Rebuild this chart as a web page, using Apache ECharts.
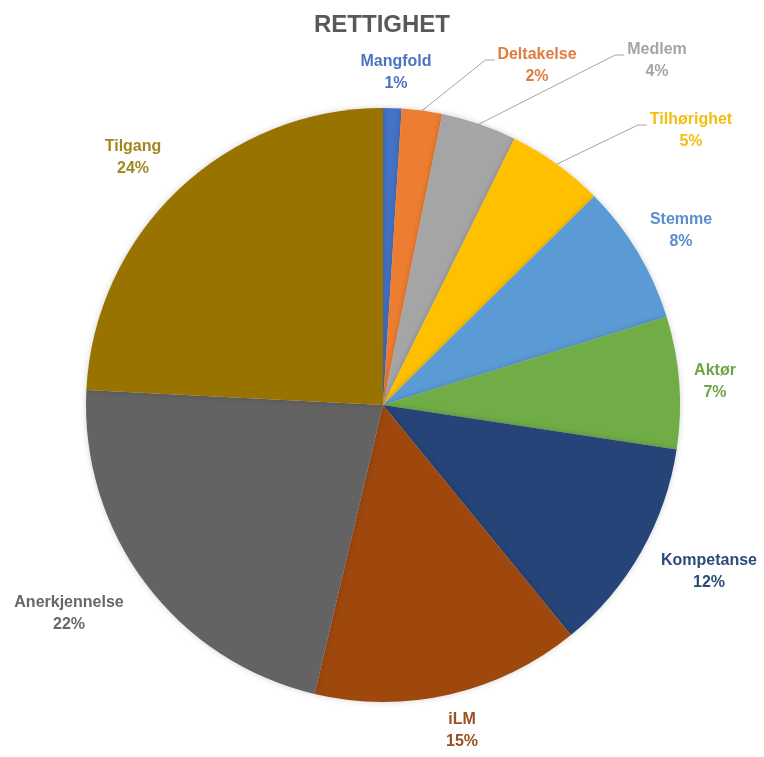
<!DOCTYPE html>
<html>
<head>
<meta charset="utf-8">
<script src="https://cdn.jsdelivr.net/npm/echarts@6/dist/echarts.min.js"></script>
<style>
  html, body { margin: 0; padding: 0; background: #fff; }
  #chart { width: 764px; height: 757px; }
</style>
</head>
<body>
<div id="chart"></div>
<script>
const names = ['Mangfold', 'Deltakelse', 'Medlem', 'Tilhørighet', 'Stemme', 'Aktør', 'Kompetanse', 'iLM', 'Anerkjennelse', 'Tilgang'];
const values = [1.0, 2.2, 4.1, 5.3, 7.6, 7.2, 11.7, 14.6, 22.1, 24.2];

const sliceColors = ['#4472C4', '#ED7D31', '#A5A5A5', '#FFC000', '#5B9BD5', '#70AD47', '#264478', '#9E480E', '#636363', '#997300'];
const labelColors = ['#4A74C0', '#E07C3E', '#A5A5A5', '#F2BE10', '#5B8FCB', '#6DA446', '#2C4A7A', '#99501E', '#676767', '#A08820'];
// label block centres (layout only)
const labelPos = [[396, 73], [537, 66], [657, 61], [691, 131], [681, 231], [715, 382], [709, 572], [462, 731], [69, 614], [133, 158]];
const withLine = [false, true, true, true, false, false, false, false, false, false];

const CX = 383, CY = 405, R = 297;

const total = values.reduce((a, b) => a + b, 0);
const midAngle = [];
let acc = 0;
values.forEach(v => {
  midAngle.push((acc + v / 2) / total * Math.PI * 2);
  acc += v;
});

const chart = echarts.init(document.getElementById('chart'));
chart.setOption({
  backgroundColor: '#fff',
  animation: false,
  title: {
    text: 'RETTIGHET',
    left: 'center',
    top: 8,
    textStyle: { fontFamily: 'Liberation Sans', fontSize: 24, fontWeight: 'bold', color: '#595959' }
  },
  series: [{
    type: 'pie',
    center: [CX, CY],
    radius: R,
    startAngle: 90,
    clockwise: true,
    itemStyle: { borderWidth: 0, shadowBlur: 6, shadowColor: 'rgba(0,0,0,0.18)' },
    label: {
      show: true,
      position: 'outside',
      overflow: 'none',
      fontFamily: 'Liberation Sans',
      fontSize: 16,
      fontWeight: 'bold',
      lineHeight: 22,
      formatter: p => p.name + '\n' + Math.round(p.percent) + '%'
    },
    labelLine: { show: true, length: 10, length2: 10, lineStyle: { color: '#A6A6A6', width: 1 } },
    labelLayout: params => {
      const i = params.dataIndex;
      const [x, y] = labelPos[i];
      const out = { x: x, y: y, align: 'center', verticalAlign: 'middle' };
      if (withLine[i]) {
        const a = midAngle[i];
        const left = x - params.labelRect.width / 2;
        const ly = y - 6;
        out.labelLinePoints = [
          [CX + R * Math.sin(a), CY - R * Math.cos(a)],
          [left - 12, ly],
          [left - 3, ly]
        ];
      }
      return out;
    },
    data: names.map((n, i) => ({
      name: n,
      value: values[i],
      itemStyle: { color: sliceColors[i] },
      label: { color: labelColors[i] },
      labelLine: { show: withLine[i] }
    }))
  }]
});
</script>
</body>
</html>
